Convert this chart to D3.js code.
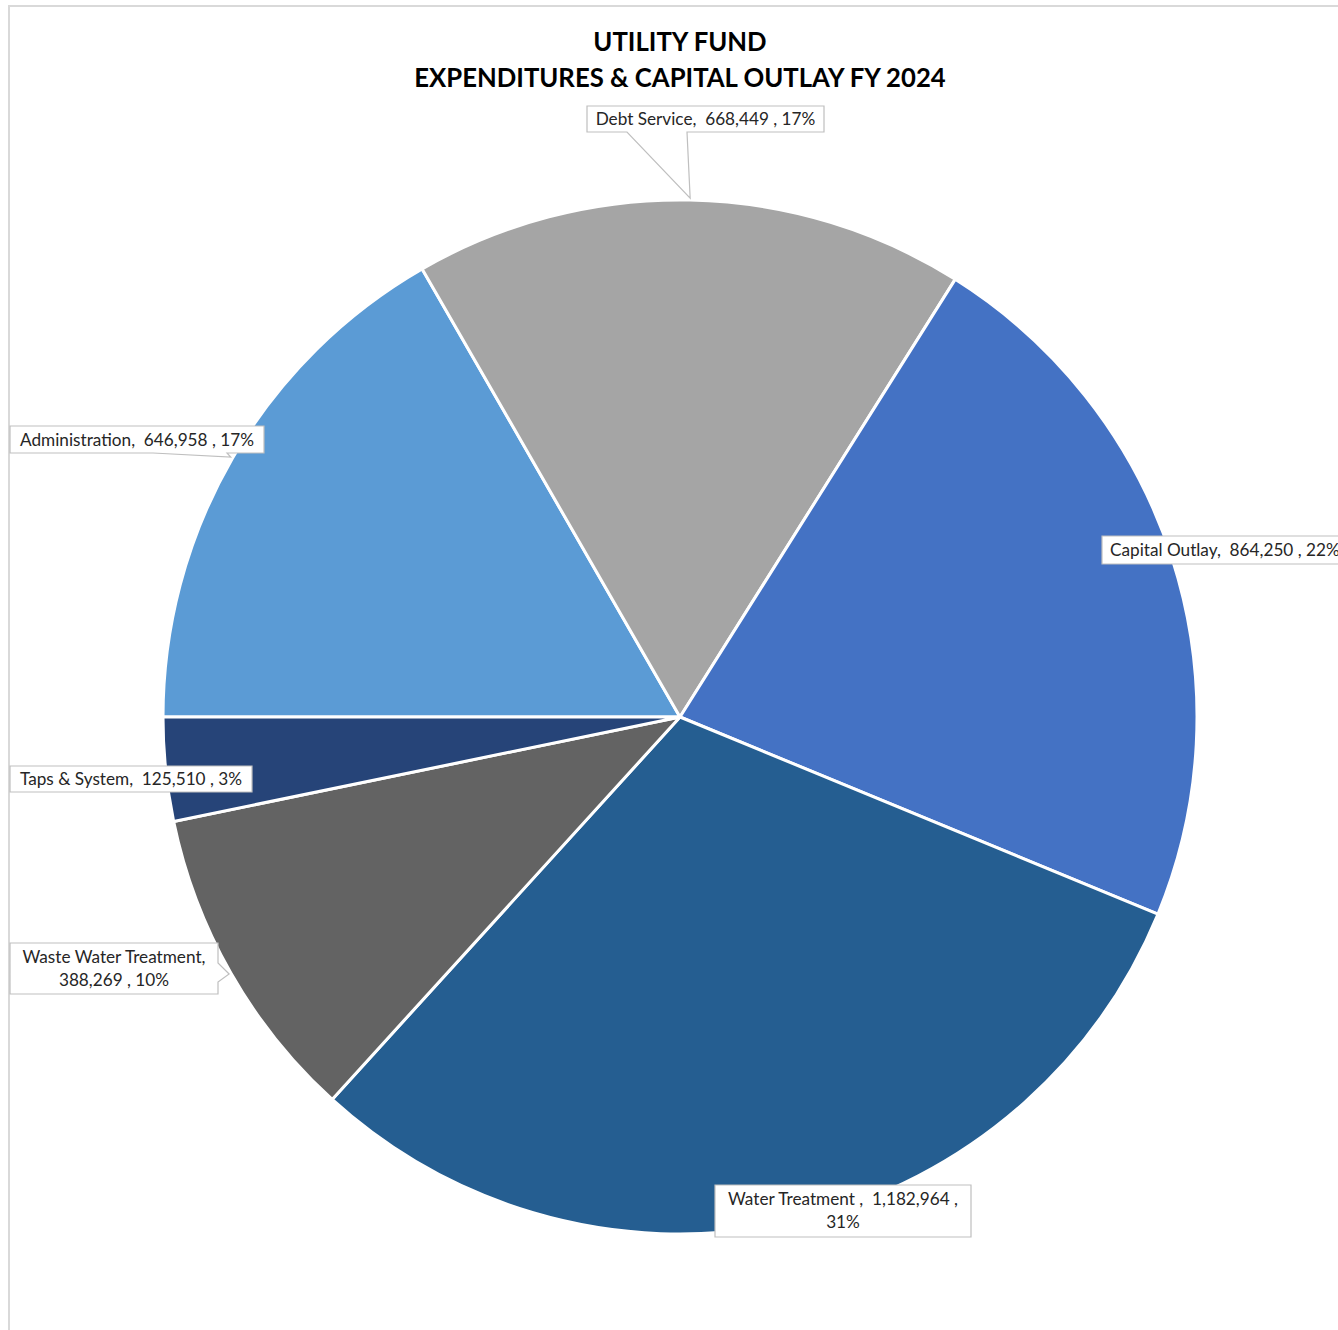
<!DOCTYPE html>
<html>
<head>
<meta charset="utf-8">
<script src="https://cdn.jsdelivr.net/npm/d3@7"></script>
<style>
  body { margin: 0; background: #fff; }
  svg text { font-family: Lato, "Open Sans", sans-serif; }
</style>
</head>
<body>
<div id="chart"></div>
<script>
// slice order as drawn, clockwise starting at 9 o'clock
const categories = ["Administration", "Debt Service", "Capital Outlay", "Water Treatment ", "Waste Water Treatment", "Taps & System"];
const amounts = [646958, 668449, 864250, 1182964, 388269, 125510];
const colors = ["#5B9BD5", "#A5A5A5", "#4472C4", "#255E91", "#636363", "#264478"];
const titleLines = ["UTILITY FUND", "EXPENDITURES & CAPITAL OUTLAY FY 2024"];

// callout boxes: position / size / optional tail (base along an edge, tip on the slice)
const callouts = [
  { x: 10, y: 426, w: 254, h: 27, lines: 1, tail: { edge: "bottom", a: 153, b: 227 } },
  { x: 587, y: 106, w: 237, h: 26, lines: 1, tail: { edge: "bottom", a: 627, b: 687 } },
  { x: 1102, y: 536, w: 250, h: 28, lines: 1 },
  { x: 715, y: 1185, w: 256, h: 52, lines: 2, split: true },
  { x: 10, y: 943, w: 208, h: 51, lines: 2, split: true, tail: { edge: "right", a: 963, b: 982 } },
  { x: 10, y: 766, w: 242, h: 26, lines: 1 }
];

const W = 1338, H = 1330;
const cx = 680, cy = 717, radius = 517;

let svg = d3.select("#chart").append("svg")
  .attr("width", W)
  .attr("height", H);

// chart area border (top and left visible)
svg.append("path")
  .attr("d", `M9,${H} L9,6 L${W},6`)
  .attr("fill", "none")
  .attr("stroke", "#d9d9d9")
  .attr("stroke-width", 2);

svg.selectAll(".title")
  .data(titleLines)
  .enter()
  .append("text")
  .attr("class", "title")
  .attr("x", cx)
  .attr("y", (d, i) => 51 + i * 36)
  .attr("text-anchor", "middle")
  .style("font-size", "25.7px")
  .style("font-weight", "bold")
  .text(d => d);

let data = categories.map((c, i) => ({ name: c, value: amounts[i], color: colors[i] }));
let total = d3.sum(amounts);

let pie = d3.pie()
  .sort(null)
  .value(d => d.value)
  .startAngle(-Math.PI / 2)
  .endAngle(Math.PI * 1.5);

let arc = d3.arc().innerRadius(0).outerRadius(radius);

let arcs = pie(data);

let g = svg.append("g")
  .attr("transform", "translate(" + cx + "," + cy + ")");

g.selectAll(".slice")
  .data(arcs)
  .enter()
  .append("path")
  .attr("class", "slice")
  .attr("d", arc)
  .attr("fill", d => d.data.color)
  .attr("stroke", "#fff")
  .attr("stroke-width", 3)
  .attr("stroke-linejoin", "round");

let fmt = d3.format(",");

function calloutPath(c, tip) {
  let x0 = c.x, y0 = c.y, x1 = c.x + c.w, y1 = c.y + c.h;
  if (!c.tail) return `M${x0},${y0}H${x1}V${y1}H${x0}Z`;
  if (c.tail.edge === "bottom") {
    return `M${x0},${y0}H${x1}V${y1}H${c.tail.b}L${tip[0]},${tip[1]}L${c.tail.a},${y1}H${x0}Z`;
  }
  // right edge
  return `M${x0},${y0}H${x1}V${c.tail.a}L${tip[0]},${tip[1]}L${x1},${c.tail.b}V${y1}H${x0}Z`;
}

let labels = svg.selectAll(".callout")
  .data(arcs)
  .enter()
  .append("g")
  .attr("class", "callout");

labels.append("path")
  .attr("d", (d, i) => {
    let mid = (d.startAngle + d.endAngle) / 2;
    let tip = [cx + (radius + 2) * Math.sin(mid), cy - (radius + 2) * Math.cos(mid)];
    return calloutPath(callouts[i], tip);
  })
  .attr("fill", "#fff")
  .attr("stroke", "#bfbfbf")
  .attr("stroke-width", 1.2);

labels.each(function (d, i) {
  let c = callouts[i];
  let pct = Math.round(d.value / total * 100) + "%";
  let name = d.data.name;
  let lines;
  if (!c.split) {
    lines = [`${name},\u00a0\u00a0${fmt(d.value)} , ${pct}`];
  } else if (i === 3) {
    lines = [`${name},\u00a0\u00a0${fmt(d.value)} ,`, pct];
  } else {
    lines = [`${name},`, `${fmt(d.value)} , ${pct}`];
  }
  let t = d3.select(this).append("text")
    .style("font-size", "17.2px")
    .attr("fill", "#262626");
  lines.forEach((ln, k) => {
    t.append("tspan")
      .attr("x", i === 2 ? c.x + 8 : c.x + c.w / 2)
      .attr("text-anchor", i === 2 ? "start" : "middle")
      .attr("y", c.y + (c.lines === 1 ? c.h / 2 + 6 : 20 + k * 23))
      .text(ln);
  });
});
</script>
</body>
</html>
